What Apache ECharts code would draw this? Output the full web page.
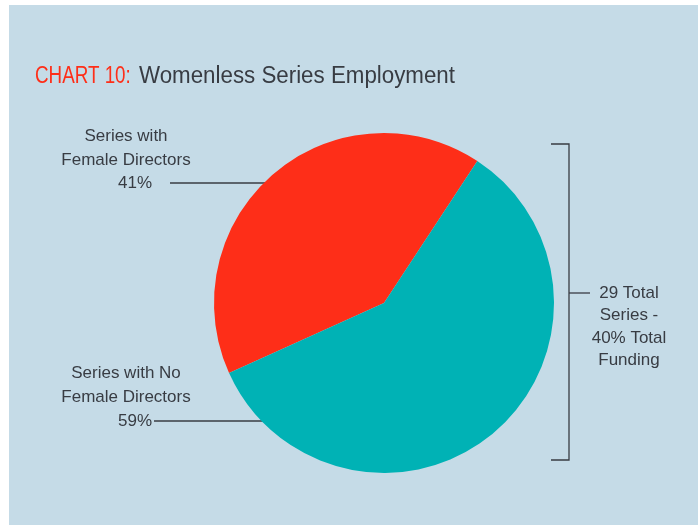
<!DOCTYPE html>
<html>
<head>
<meta charset="utf-8">
<script src="https://cdn.jsdelivr.net/npm/echarts@6/dist/echarts.min.js"></script>
<style>
html,body{margin:0;padding:0;background:#fff;}
#chart{width:700px;height:525px;}
</style>
</head>
<body>
<div id="chart"></div>
<script>
var categories = ['Series with\nFemale Directors', 'Series with No\nFemale Directors'];
var values = [41, 59];
var sliceColors = ['#fe2e18', '#00b2b5'];
var titlePrefix = 'CHART 10:';
var titleText = 'Womenless Series Employment';
var bracketNote = '29 Total\nSeries -\n40% Total\nFunding';

var textColor = '#383c43';
var font = '"Liberation Sans", Arial, Helvetica, sans-serif';

var chart = echarts.init(document.getElementById('chart'), null, {renderer: 'canvas'});

var labelSpots = [
  {x: 126, y: 125, lh: 23.5, line: [[170, 183], [266, 183]]},
  {x: 126, y: 361, lh: 24.3, line: [[154, 421], [263, 421]]}
];

var option = {
  backgroundColor: '#ffffff',
  animation: false,
  graphic: [
    {type: 'rect', z: -10, silent: true, shape: {x: 9, y: 5, width: 689, height: 520}, style: {fill: '#c5dbe7'}},
    {type: 'text', x: 35, y: 77, scaleX: 0.80, style: {text: titlePrefix, fill: '#fe2e18', font: '23.5px ' + font, verticalAlign: 'middle', align: 'left'}},
    {type: 'text', x: 139, y: 77, scaleX: 0.95, style: {text: titleText, fill: textColor, font: '23.5px ' + font, verticalAlign: 'middle', align: 'left'}},
    {type: 'polyline', shape: {points: [[551, 144], [569, 144], [569, 460], [551, 460]]}, style: {stroke: textColor, lineWidth: 1.3, fill: null}},
    {type: 'line', shape: {x1: 569, y1: 293, x2: 590, y2: 293}, style: {stroke: textColor, lineWidth: 1.3}},
    {type: 'text', x: 629, y: 282, style: {text: bracketNote, fill: textColor, font: '17px ' + font, align: 'center', verticalAlign: 'top', lineHeight: 22.4}}
  ],
  series: [{
    type: 'pie',
    center: [384, 303],
    radius: [0, 170],
    startAngle: 204.3,
    clockwise: true,
    silent: true,
    data: categories.map(function (c, i) {
      var lh = labelSpots[i].lh;
      return {
        name: c, value: values[i], itemStyle: {color: sliceColors[i]},
        label: {lineHeight: lh, rich: {p: {fontSize: 17, fontFamily: font, color: textColor, lineHeight: lh, padding: [0, 0, 0, 18]}}}
      };
    }),
    label: {
      show: true,
      formatter: function (p) { return p.name + '\n{p|' + p.value + '%}'; },
      color: textColor,
      fontFamily: font,
      fontSize: 17,
      align: 'center'
    },
    labelLine: {show: true, lineStyle: {color: textColor, width: 1.3}},
    labelLayout: function (params) {
      var s = labelSpots[params.dataIndex];
      return {x: s.x, y: s.y, align: 'center', verticalAlign: 'top', labelLinePoints: s.line};
    }
  }]
};
chart.setOption(option);
</script>
</body>
</html>
